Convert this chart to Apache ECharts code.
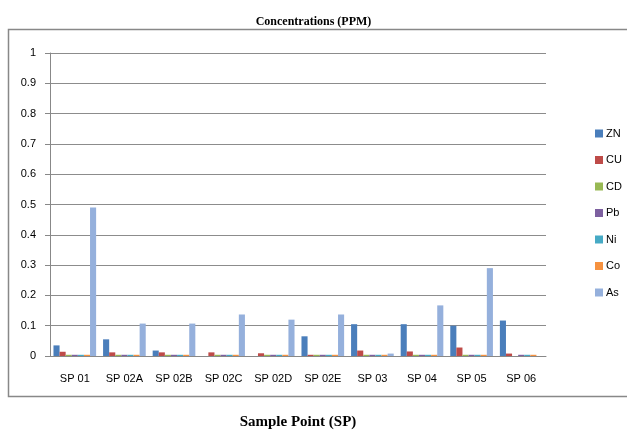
<!DOCTYPE html>
<html>
<head>
<meta charset="utf-8">
<script src="https://cdn.jsdelivr.net/npm/echarts@6/dist/echarts.min.js"></script>
<style>
  html, body { margin: 0; padding: 0; background: #fff; }
  #chart { width: 627px; height: 430px; }
</style>
</head>
<body>
<div id="chart"></div>
<script>
const categories = ['SP 01', 'SP 02A', 'SP 02B', 'SP 02C', 'SP 02D', 'SP 02E', 'SP 03', 'SP 04', 'SP 05', 'SP 06']
const seriesNames = ['ZN', 'CU', 'CD', 'Pb', 'Ni', 'Co', 'As']
const zn = [0.035, 0.055, 0.018, 0, 0, 0.065, 0.105, 0.105, 0.1, 0.117]
const cu = [0.014, 0.012, 0.012, 0.012, 0.009, 0.004, 0.018, 0.015, 0.028, 0.008]
const cd = [0.004, 0.004, 0.004, 0.004, 0.004, 0.004, 0.004, 0.004, 0.004, 0]
const pb = [0.004, 0.004, 0.004, 0.004, 0.004, 0.004, 0.004, 0.004, 0.004, 0.004]
const ni = [0.004, 0.004, 0.004, 0.004, 0.004, 0.004, 0.004, 0.004, 0.004, 0.004]
const co = [0.004, 0.004, 0.004, 0.004, 0.004, 0.004, 0.004, 0.004, 0.004, 0.004]
const as = [0.49, 0.107, 0.107, 0.137, 0.12, 0.137, 0.008, 0.167, 0.29, 0]
const colors = ['#4a7ebb', '#be4b48', '#98b954', '#7d60a0', '#46aac5', '#f69240', '#95b0dc']

const chart = echarts.init(document.getElementById('chart'))
const values = [zn, cu, cd, pb, ni, co, as]

chart.setOption({
  animation: false,
  color: colors,
  title: {
    text: 'Concentrations (PPM)',
    left: 'center',
    top: 11,
    textStyle: { fontFamily: 'Liberation Serif', fontWeight: 'bold', fontSize: 12, color: '#000' }
  },
  legend: {
    orient: 'vertical',
    left: 590,
    top: 123,
    itemWidth: 8,
    itemHeight: 8,
    itemGap: 15.5,
    icon: 'rect',
    textStyle: { fontFamily: 'Liberation Sans', fontSize: 11, color: '#000', padding: [0, 0, 0, -2] },
    data: seriesNames
  },
  grid: { left: 50, right: 81, top: 53, bottom: 74, outerBoundsMode: 'none' },
  xAxis: {
    type: 'category',
    data: categories,
    name: 'Sample Point (SP)',
    nameLocation: 'middle',
    nameGap: 59,
    nameTextStyle: { fontFamily: 'Liberation Serif', fontWeight: 'bold', fontSize: 15, color: '#000' },
    axisLine: { lineStyle: { color: '#888' } },
    axisTick: { length: 5, lineStyle: { color: '#888' } },
    axisLabel: { fontFamily: 'Liberation Sans', fontSize: 11, color: '#000', margin: 17 }
  },
  yAxis: {
    type: 'value',
    min: 0,
    max: 1,
    interval: 0.1,
    axisLine: { show: true, lineStyle: { color: '#888' } },
    axisTick: { show: true, length: 5, lineStyle: { color: '#888' } },
    axisLabel: { fontFamily: 'Liberation Sans', fontSize: 11, color: '#000', margin: 14 },
    splitLine: { lineStyle: { color: '#8c8c8c' } }
  },
  series: seriesNames.map((name, i) => ({
    name,
    type: 'bar',
    data: values[i],
    barGap: '0%',
    barCategoryGap: '14%'
  })),
  graphic: [{
    type: 'rect',
    shape: { x: 8.5, y: 29.5, width: 630, height: 367 },
    style: { fill: 'none', stroke: '#888', lineWidth: 1.5 },
    silent: true
  }]
})
</script>
</body>
</html>
